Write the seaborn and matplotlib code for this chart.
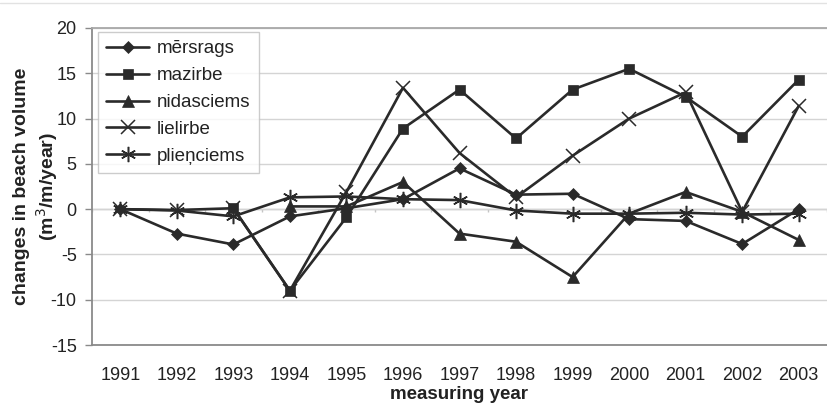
import numpy as np
import pandas as pd
import matplotlib
matplotlib.use("Agg")
import matplotlib.pyplot as plt
from matplotlib.lines import Line2D
import seaborn as sns

years = [1991, 1992, 1993, 1994, 1995, 1996, 1997, 1998, 1999, 2000, 2001, 2002, 2003]
mersrags = [0.0, -2.7, -3.9, -0.8, 0.1, 1.1, 4.5, 1.6, 1.7, -1.1, -1.3, -3.85, 0.0]
mazirbe = [np.nan, np.nan, 0.1, -9.0, -0.9, 8.9, 13.2, 7.8, 13.2, 15.5, 12.4, 8.0, 14.3]
nidasciems = [np.nan, np.nan, np.nan, 0.3, 0.3, 3.0, -2.7, -3.6, -7.5, -0.5, 1.9, -0.3, -3.4]
lielirbe = [0.0, -0.1, 0.1, -9.0, 1.9, 13.4, 6.2, 1.3, 5.9, 10.0, 12.9, -0.3, 11.4]
plienciems = [0.0, -0.15, -0.8, 1.3, 1.4, 1.1, 1.0, -0.15, -0.5, -0.5, -0.4, -0.6, -0.5]

series = {
    "mērsrags": mersrags,
    "mazirbe": mazirbe,
    "nidasciems": nidasciems,
    "lielirbe": lielirbe,
    "plieņciems": plienciems,
}

rows = []
for name, vals in series.items():
    for i, (y, v) in enumerate(zip(years, vals)):
        rows.append({"idx": i, "year": y, "station": name, "value": v})
df = pd.DataFrame(rows)

sns.set_theme(style="white")
plt.rcParams["font.family"] = ["Liberation Sans", "DejaVu Sans"]
plt.rcParams["axes.unicode_minus"] = False

ink = "#2a2a2a"
text_col = "#222222"
markers = {
    "mērsrags": "D",
    "mazirbe": "s",
    "nidasciems": "^",
    "lielirbe": "x",
    "plieņciems": (6, 2, 0),
}
msizes = {"mērsrags": 6.5, "mazirbe": 7, "nidasciems": 8, "lielirbe": 10, "plieņciems": 11}

fig = plt.figure(figsize=(8.27, 4.16), dpi=100)
ax = fig.add_axes([92 / 827, 1 - 345 / 416, 1 - 92 / 827, (345 - 28) / 416])

for name in series:
    sub = df[df["station"] == name].dropna()
    sns.lineplot(
        data=sub, x="idx", y="value", ax=ax, color=ink, linewidth=1.9,
        marker=markers[name], markersize=msizes[name], markeredgecolor=ink,
        markerfacecolor=ink,
        markeredgewidth=1.1 if name in ("lielirbe", "plieņciems") else 0.5,
        label=name, sort=False, estimator=None,
    )

ax.set_xlim(-0.5, len(years) - 0.5)
ax.set_ylim(-15, 20)
ax.set_yticks(np.arange(-15, 21, 5))
ax.set_xticks(range(len(years)))
ax.set_xticklabels([str(y) for y in years])
ax.yaxis.grid(True, color="#d4d4d4", linewidth=1.0)
ax.set_axisbelow(True)

# category axis crossing at zero, with tick marks between categories
ax.axhline(0, color="#c4c4c4", linewidth=1.0, zorder=0.5)
bounds = np.arange(len(years) + 1) - 0.5
ax.vlines(bounds, -0.35, 0, color="#c4c4c4", linewidth=1.0, zorder=0.5)

ax.spines["right"].set_visible(False)
ax.spines["top"].set_color("#a8a8a8")
ax.spines["top"].set_linewidth(1.3)
for side in ("left", "bottom"):
    ax.spines[side].set_color("#8a8a8a")
    ax.spines[side].set_linewidth(1.3)

ax.tick_params(axis="y", which="major", left=True, length=5, width=1.0,
               color="#8a8a8a", labelsize=13, labelcolor=text_col, pad=6)
ax.tick_params(axis="x", which="major", bottom=False, labelsize=13,
               labelcolor=text_col, pad=9.5)

ax.set_xlabel("measuring year", fontsize=13.5, fontweight="bold",
              color=text_col, labelpad=2)

# two-line y axis title: main label plus the unit line
ax.set_ylabel("changes in beach volume", fontsize=14, fontweight="bold",
              color=text_col)
ax.yaxis.set_label_coords(-0.084, 0.5)
fig.text(47 / 827, 1 - 186 / 416, "(m$^3$/m/year)", rotation=90, ha="center",
         va="center", fontsize=14, fontweight="bold", color=text_col)

leg = ax.legend(loc="upper left", bbox_to_anchor=(0.008, 0.988),
                borderaxespad=0, frameon=True, fancybox=False,
                edgecolor="#c0c0c0", fontsize=13.5, handlelength=2.3,
                handletextpad=0.4, labelspacing=0.52, borderpad=0.45)
leg.get_frame().set_linewidth(1.0)
for t in leg.get_texts():
    t.set_color(text_col)

# thin chart frame line along the top edge
fig.add_artist(Line2D([0, 1], [1 - 3 / 416, 1 - 3 / 416], transform=fig.transFigure,
                      color="#e2e2e2", linewidth=1.0))

fig.savefig("out.png", dpi=100, facecolor="white")
